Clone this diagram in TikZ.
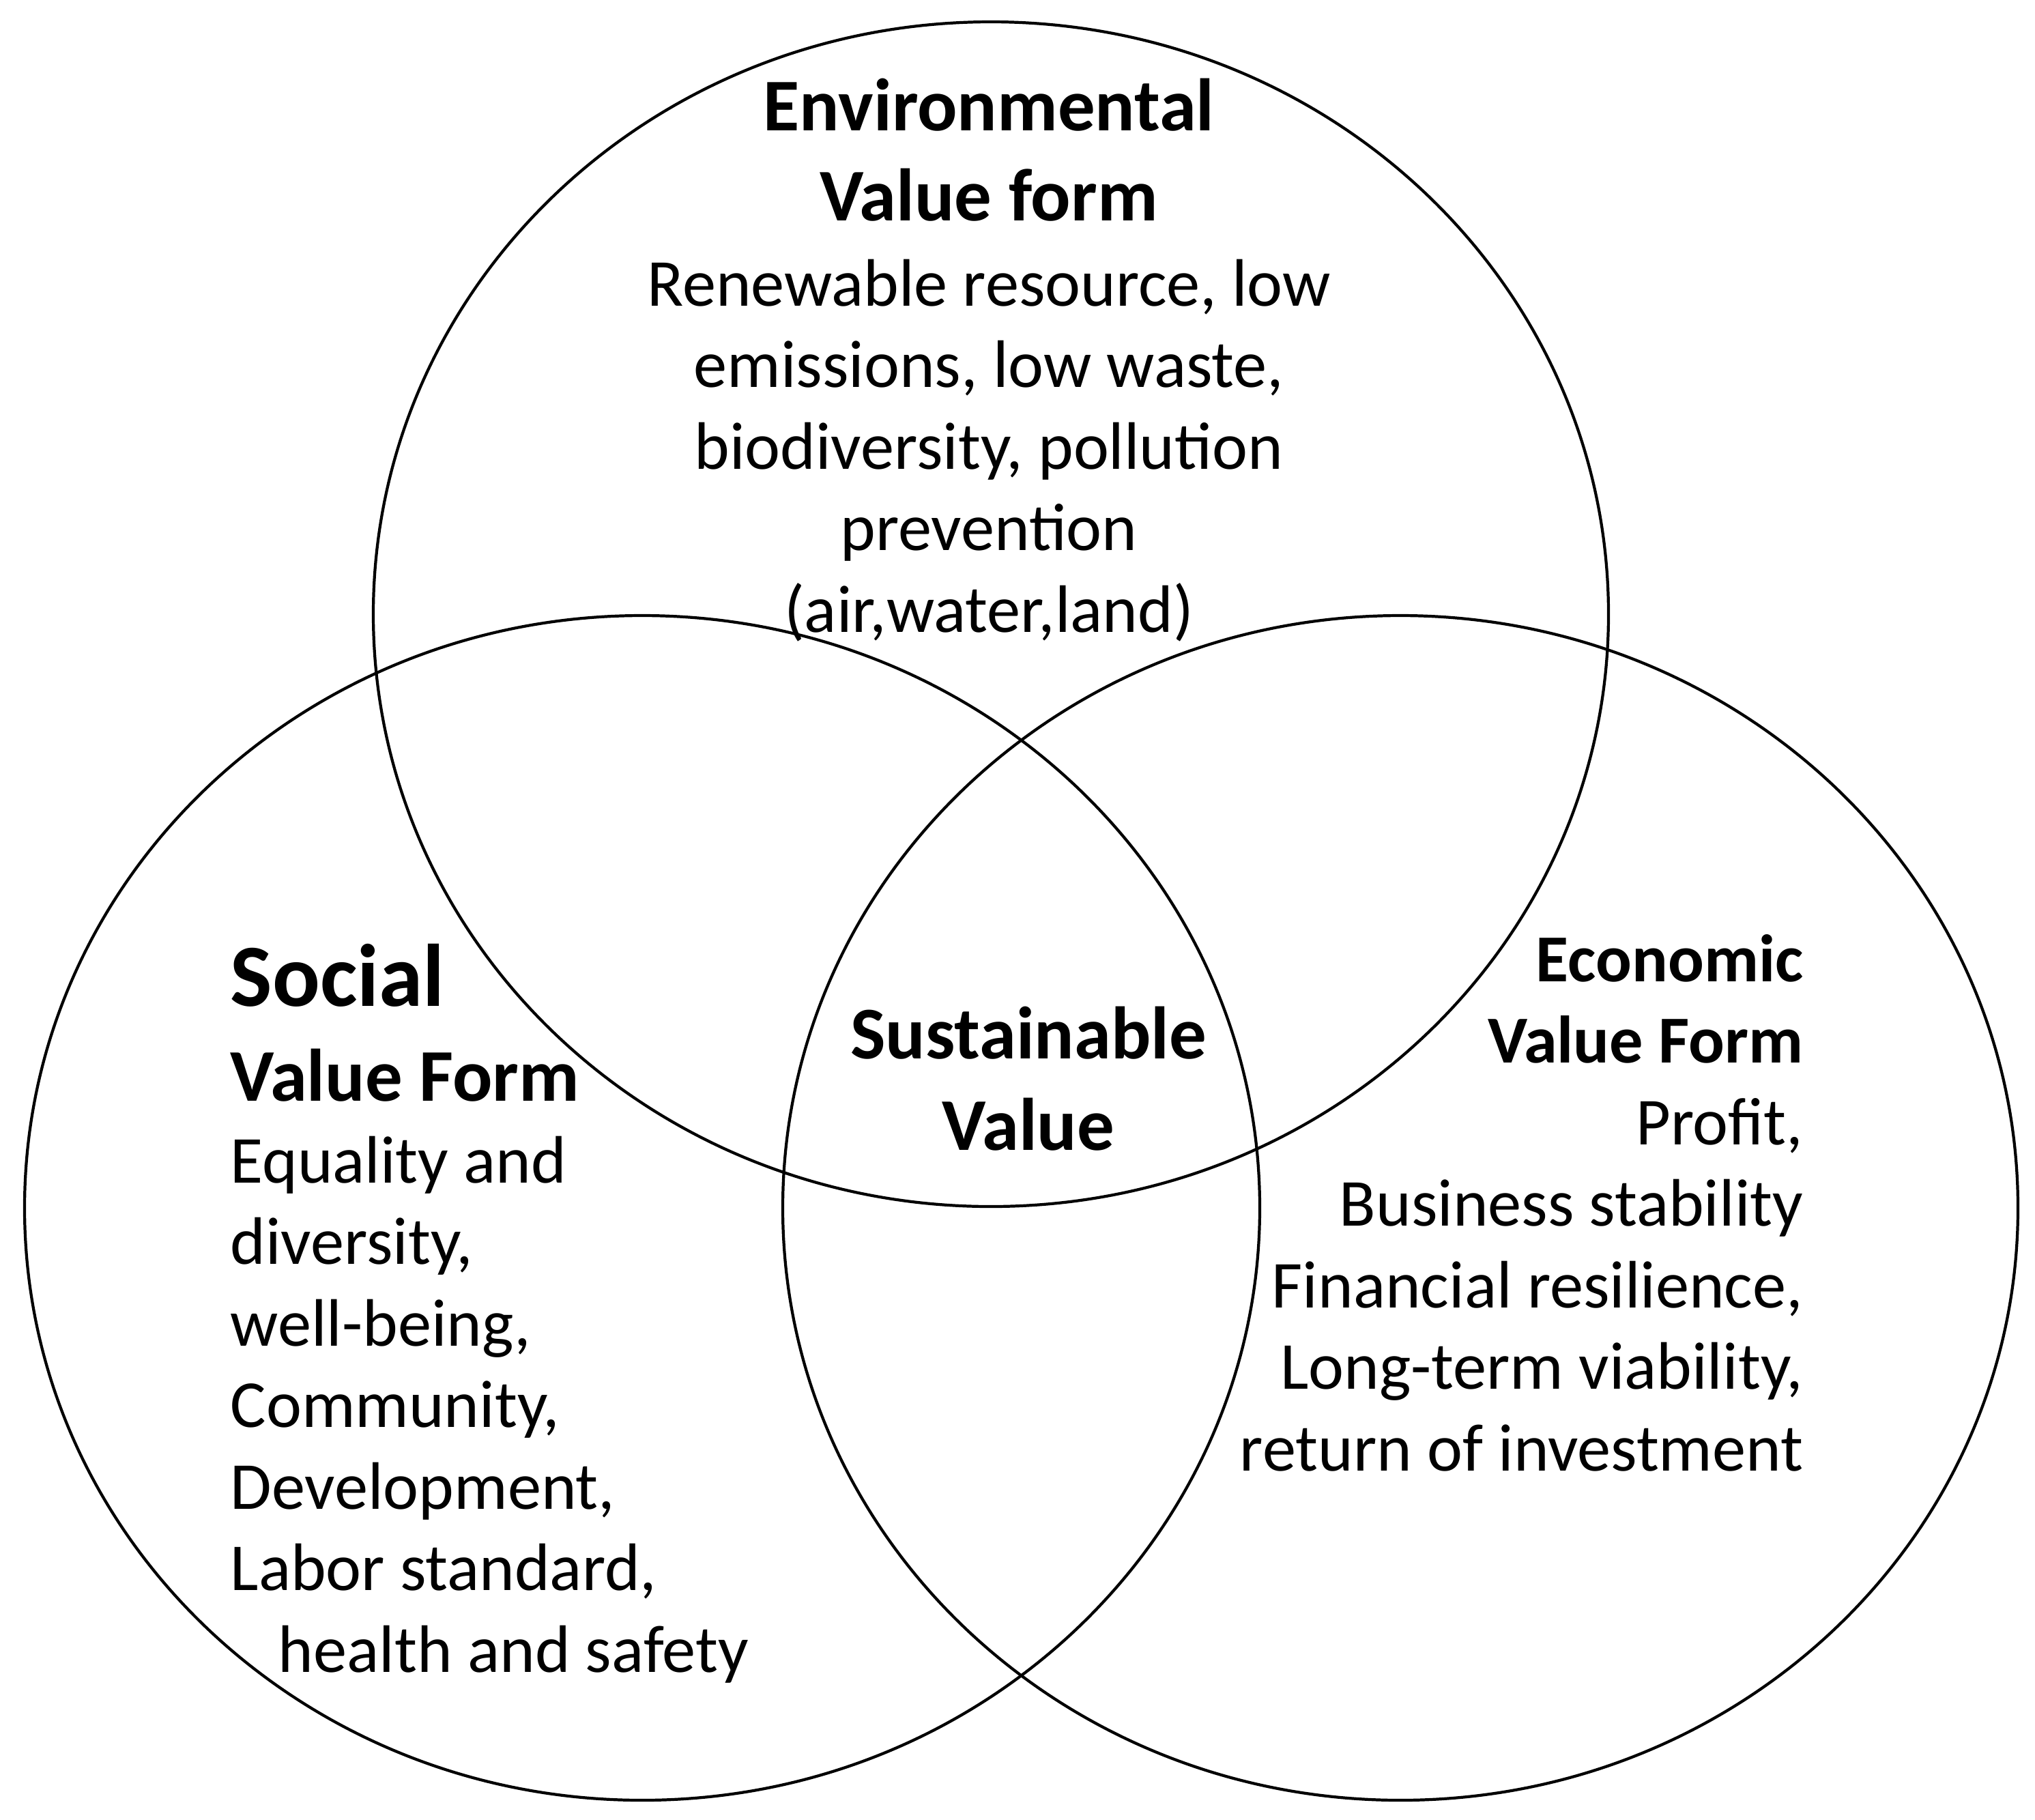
\documentclass[tikz,border=0pt]{standalone}
\usepackage{fontspec}
\setmainfont{Carlito}
\usepackage{tikz}

\begin{document}
\begin{tikzpicture}
    % Styles (MODIFIABLES)
    \tikzstyle{cercle}=[draw,line width=1.2pt]
    \tikzstyle{bloc}=[inner sep=0pt,font=\fontsize{28}{34}\selectfont]
    \def\Titre{\fontsize{31}{37}\selectfont\bfseries}
    % Dimensions (MODIFIABLES)
    \def\RayonX{9.05}
    \def\RayonY{8.68}
    % Cadre
    \useasboundingbox (0,0) rectangle (29.82,-26.66);
    % Cercles
    \draw[cercle] (14.52,-9.00) ellipse [x radius=\RayonX, y radius=\RayonY];
    \draw[cercle] (9.41,-17.70) ellipse [x radius=\RayonX, y radius=\RayonY];
    \draw[cercle] (20.52,-17.70) ellipse [x radius=\RayonX, y radius=\RayonY];
    % Noeuds (textes, base = derniere ligne)
    \node[bloc,align=center,anchor=base] (Env) at (14.49,-9.26)
        {{\Titre Environmental}\\[3.8pt]
         {\Titre Value form}\\[1.3pt]
         Renewable resource, low\\
         emissions, low waste,\\
         biodiversity, pollution\\
         prevention\\
         (air,water,land)};
    \node[bloc,align=left,anchor=base west] (Soc) at (3.37,-24.50)
        {{\fontsize{37}{44}\selectfont\bfseries Social}\\[5.5pt]
         {\Titre Value Form}\\
         Equality and\\
         diversity,\\
         well-being,\\
         Community,\\
         Development,\\
         Labor standard,\\
         \hspace*{20pt}health and safety};
    \node[bloc,align=right,anchor=base east] (Eco) at (26.43,-21.55)
        {{\bfseries Economic}\\
         {\bfseries Value Form}\\
         Profit,\\
         Business stability\\
         Financial resilience,\\
         Long-term viability,\\
         return of investment};
    \node[bloc,align=center,anchor=base,font=\fontsize{31}{38}\selectfont\bfseries] (Dur) at (15.07,-16.85)
        {Sustainable\\ Value};
\end{tikzpicture}
\end{document}
